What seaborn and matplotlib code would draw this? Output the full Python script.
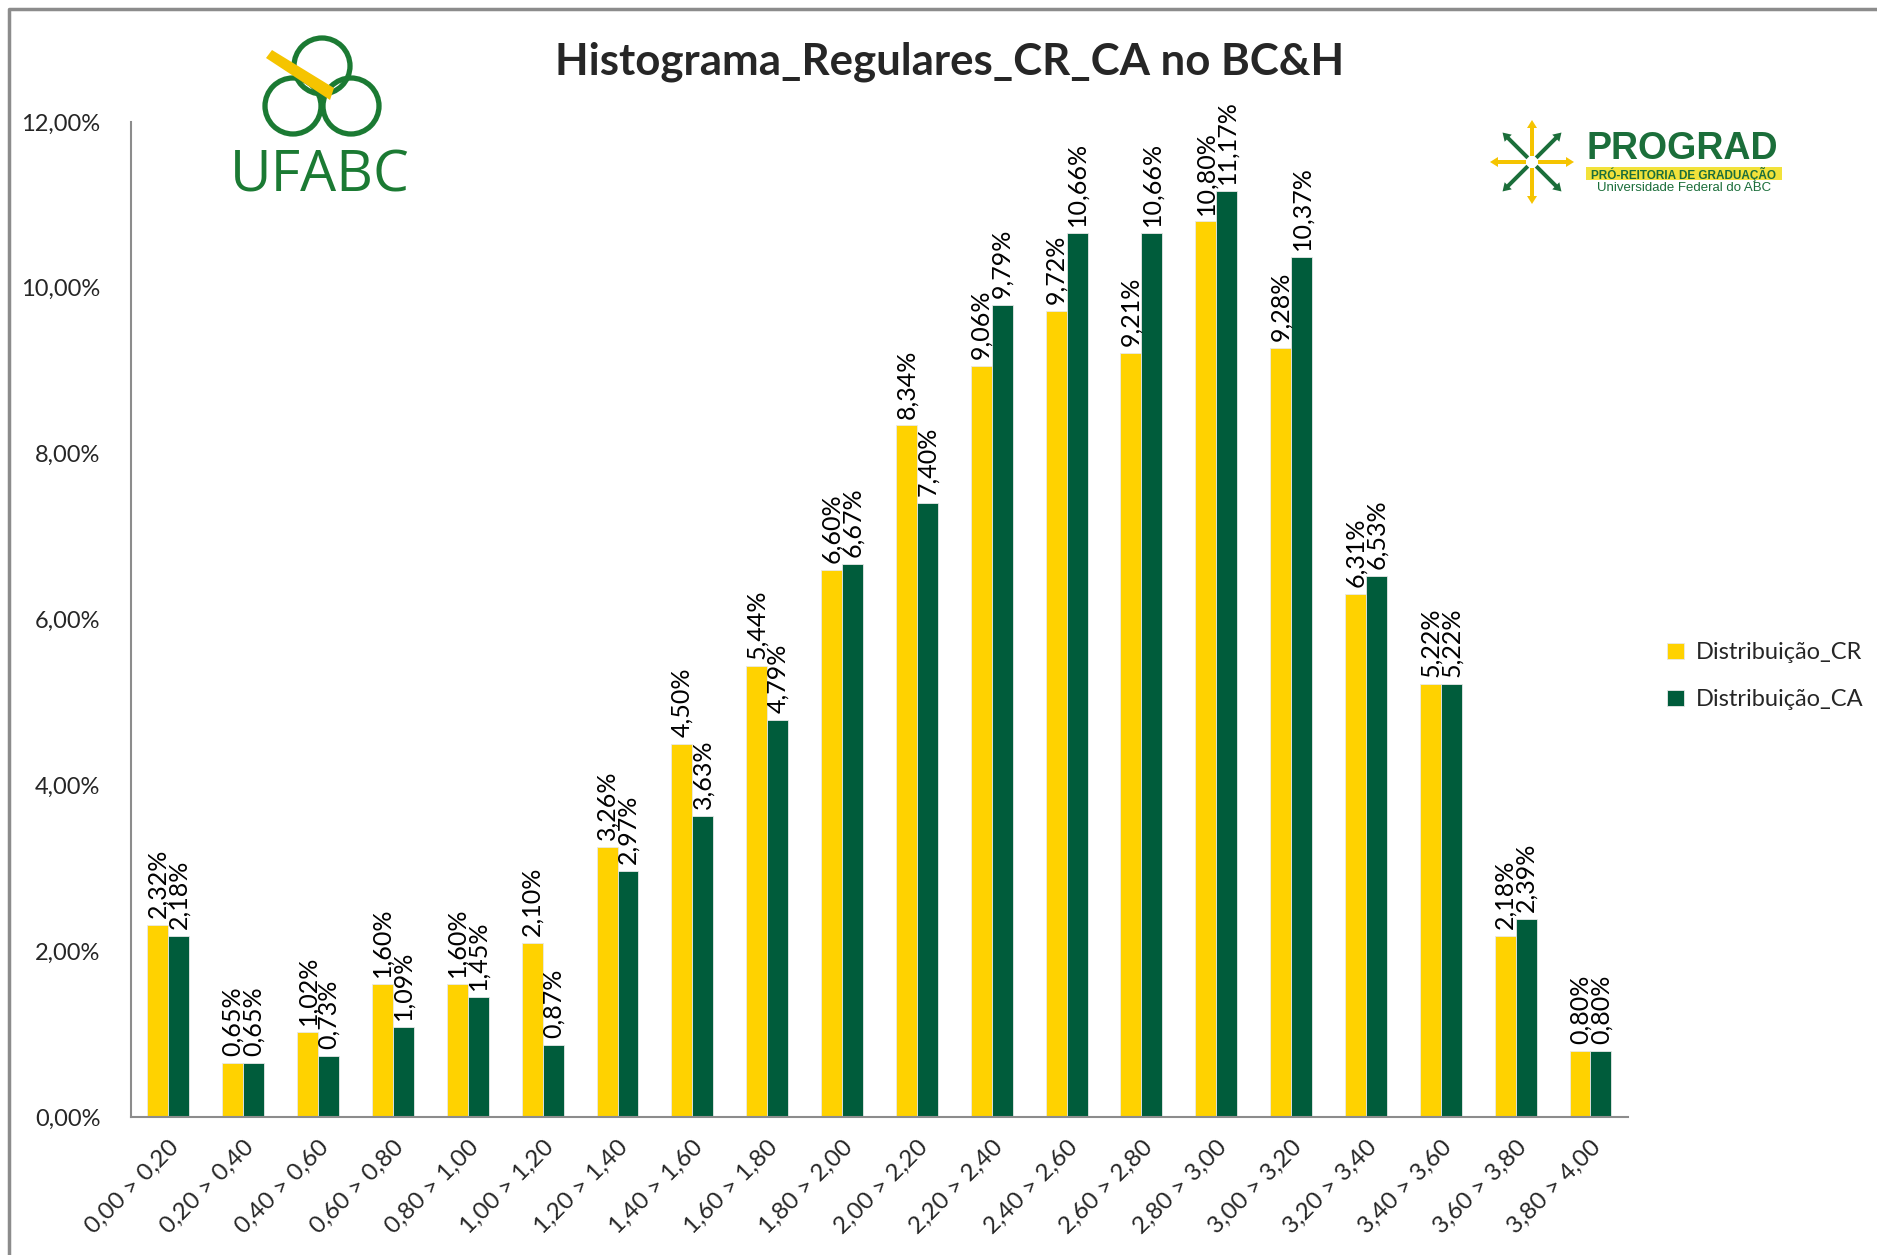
import matplotlib
matplotlib.use("Agg")
import matplotlib.pyplot as plt
from matplotlib.patches import Circle, Polygon, Rectangle, FancyArrow
import pandas as pd
import seaborn as sns

faixas = ["0,00 > 0,20", "0,20 > 0,40", "0,40 > 0,60", "0,60 > 0,80", "0,80 > 1,00",
          "1,00 > 1,20", "1,20 > 1,40", "1,40 > 1,60", "1,60 > 1,80", "1,80 > 2,00",
          "2,00 > 2,20", "2,20 > 2,40", "2,40 > 2,60", "2,60 > 2,80", "2,80 > 3,00",
          "3,00 > 3,20", "3,20 > 3,40", "3,40 > 3,60", "3,60 > 3,80", "3,80 > 4,00"]
dist_cr = [2.32, 0.65, 1.02, 1.60, 1.60, 2.10, 3.26, 4.50, 5.44, 6.60,
           8.34, 9.06, 9.72, 9.21, 10.80, 9.28, 6.31, 5.22, 2.18, 0.80]
dist_ca = [2.18, 0.65, 0.73, 1.09, 1.45, 0.87, 2.97, 3.63, 4.79, 6.67,
           7.40, 9.79, 10.66, 10.66, 11.17, 10.37, 6.53, 5.22, 2.39, 0.80]
series = ["Distribuição_CR", "Distribuição_CA"]
y_ticks = [0, 2, 4, 6, 8, 10, 12]

YELLOW = "#FFD200"
GREEN = "#005C3B"

df = pd.DataFrame({
    "faixa": faixas * 2,
    "valor": dist_cr + dist_ca,
    "serie": [series[0]] * len(faixas) + [series[1]] * len(faixas),
})

sns.set_style("white")
plt.rcParams["font.family"] = ["Lato", "DejaVu Sans"]

fig = plt.figure(figsize=(18.77, 12.55), dpi=100)
ax = fig.add_axes([0.0698, 0.110, 0.7975, 0.7928])

sns.barplot(data=df, x="faixa", y="valor", hue="serie", order=faixas, hue_order=series,
            palette=[YELLOW, GREEN], saturation=1, width=0.56, gap=0, ax=ax, legend=True,
            edgecolor="#E8E8E8", linewidth=0.6)


def pct(v):
    return f"{v:.2f}%".replace(".", ",")


for cont in ax.containers:
    vals = [b.get_height() for b in cont]
    ax.bar_label(cont, labels=[pct(v) for v in vals], rotation=90, padding=5,
                 fontsize=18, color="black")

ax.set_xlim(-0.5, len(faixas) - 0.5)
ax.set_ylim(0, 12)
ax.set_yticks(y_ticks)
ax.set_yticklabels([f"{t:.2f}%".replace(".", ",") for t in y_ticks], fontsize=17)
ax.set_xticks(range(len(faixas)))
ax.set_xticklabels(faixas, rotation=45, ha="right", rotation_mode="anchor", fontsize=17.5)
ax.tick_params(axis="x", length=0, pad=14)
ax.tick_params(axis="y", length=0, pad=22)
ax.set_xlabel("")
ax.set_ylabel("")
for s in ["top", "right"]:
    ax.spines[s].set_visible(False)
for s in ["left", "bottom"]:
    ax.spines[s].set_color("#8C8C8C")
    ax.spines[s].set_linewidth(1.5)

ax.get_legend().remove()
handles, labels = ax.get_legend_handles_labels()
fig.legend(handles[:2], labels[:2], loc="center left", bbox_to_anchor=(0.877, 0.461),
           frameon=False, fontsize=17, handlelength=0.7, handleheight=0.7,
           handletextpad=0.5, labelspacing=1.1)

fig.text(0.506, 0.951, "Histograma_Regulares_CR_CA no BC&H", ha="center", va="center",
         fontsize=31.5, fontweight="bold")

# overlay in pixel coordinates for frame and logos
ov = fig.add_axes([0, 0, 1, 1], zorder=5)
ov.set_xlim(0, 1877)
ov.set_ylim(1255, 0)
ov.axis("off")
ov.plot([9, 9, 1877], [1255, 9, 9], color="#8C8C8C", lw=2.5)

# UFABC logo
for cx, cy in [(322, 66), (293, 106), (351, 106)]:
    ov.add_patch(Circle((cx, cy), 28, fill=False, ec="#1B7A33", lw=3.8))
ov.add_patch(Polygon([[266, 58], [272, 50], [334, 88], [330, 100]], closed=True,
                     fc="#F5C400", ec="none"))
ov.text(320, 177, "UFABC", ha="center", va="center", fontsize=41, color="#1B7A33",
        family=["Open Sans", "DejaVu Sans"])

# PROGRAD logo
cx, cy = 1532, 162
arrows = [(1, 0, "#F5C400"), (-1, 0, "#F5C400"), (0, 1, "#F5C400"), (0, -1, "#F5C400"),
          (0.7, 0.7, "#1B6E3A"), (-0.7, -0.7, "#1B6E3A"), (0.7, -0.7, "#1B6E3A"),
          (-0.7, 0.7, "#1B6E3A")]
for dx, dy, c in arrows:
    ov.add_patch(FancyArrow(cx + dx * 6, cy + dy * 6, dx * 28, dy * 28, width=4,
                            head_width=10, head_length=8, fc=c, ec="none"))
ov.text(1682, 149, "PROGRAD", ha="center", va="center", fontsize=27, fontweight="bold",
        color="#1B6E3A", family=["Liberation Sans", "DejaVu Sans"])
ov.add_patch(Rectangle((1586, 167), 196, 13, fc="#F2E23A", ec="none"))
ov.text(1684, 174, "PRÓ-REITORIA DE GRADUAÇÃO", ha="center", va="center", fontsize=8.5,
        fontweight="bold", color="#1B6E3A", family=["Liberation Sans", "DejaVu Sans"])
ov.text(1684, 188, "Universidade Federal do ABC", ha="center", va="center", fontsize=9.5,
        color="#1B6E3A", family=["Liberation Sans", "DejaVu Sans"])

fig.savefig("out.png", dpi=100)
